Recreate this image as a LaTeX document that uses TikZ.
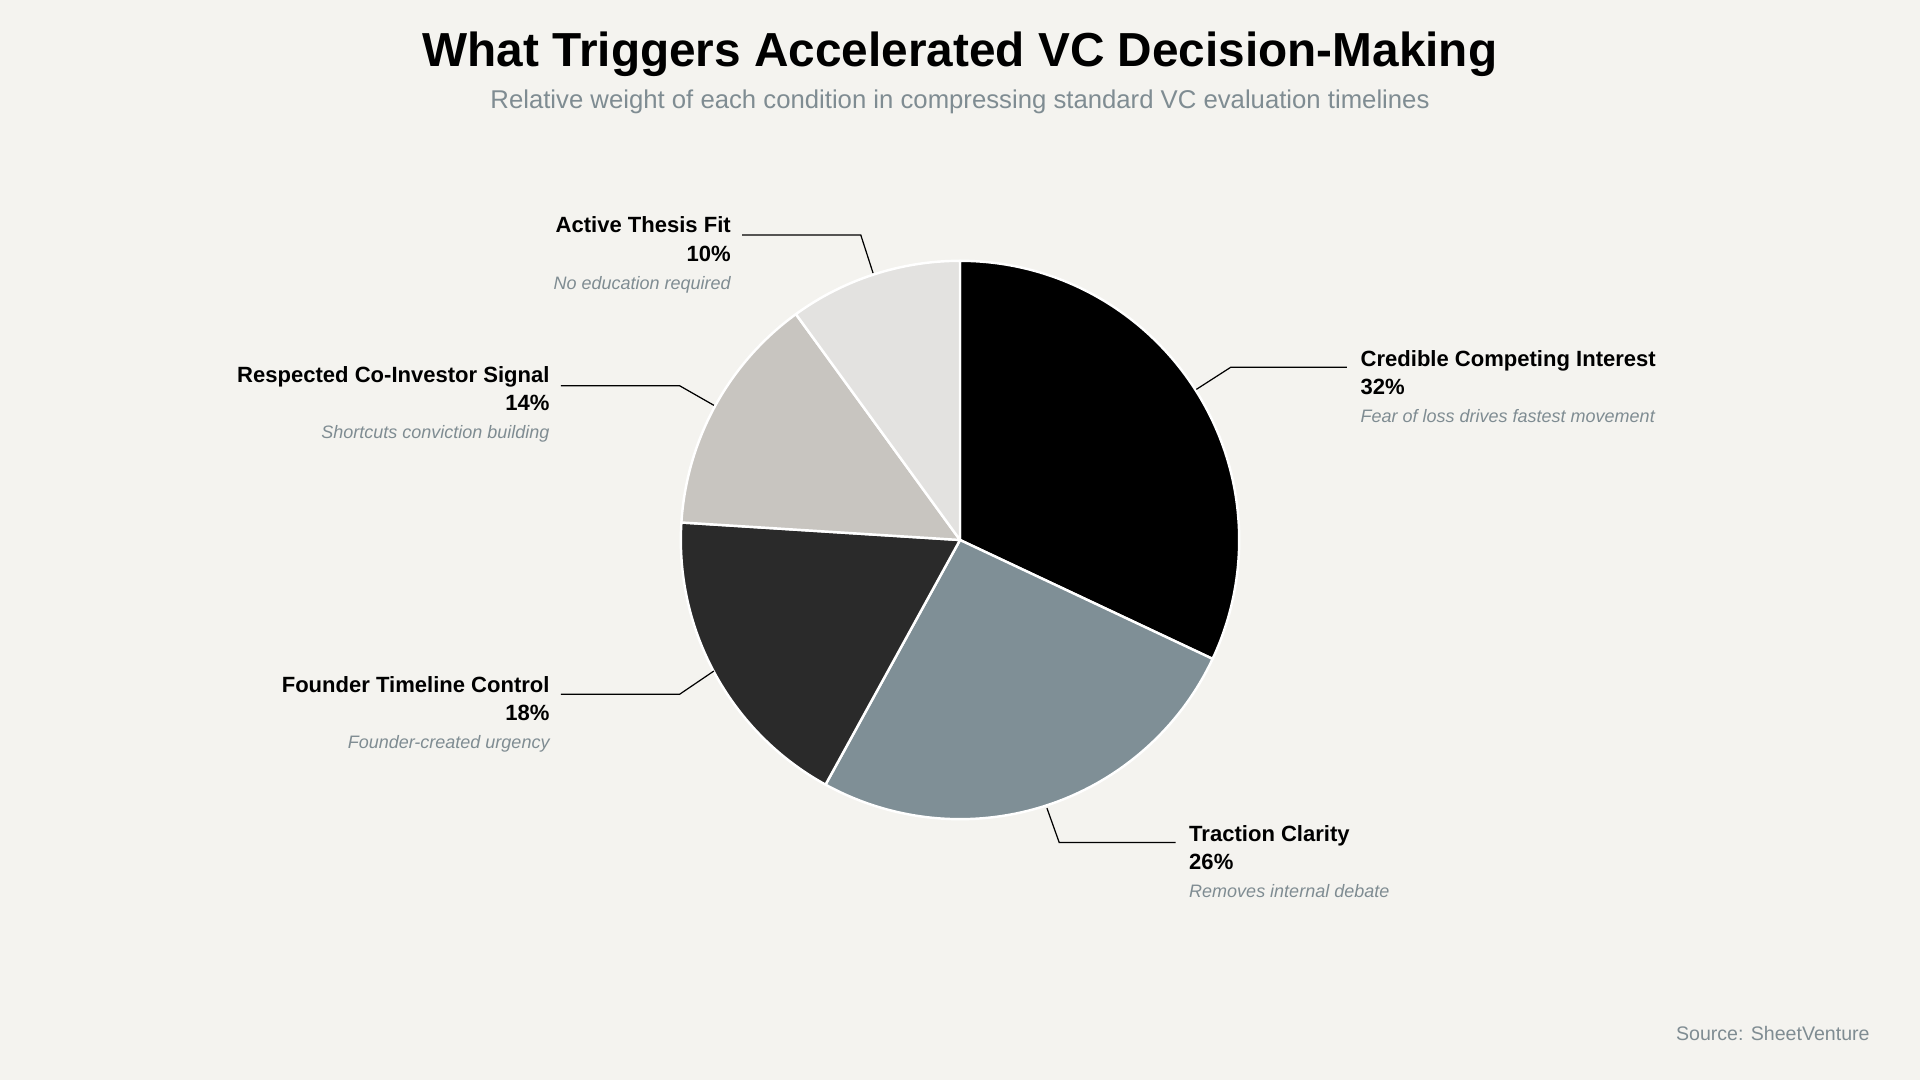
\documentclass[tikz,border=0pt]{standalone}
\usepackage{fontspec}
\setmainfont{Liberation Sans}
\definecolor{bg}{HTML}{F4F3EF}
\definecolor{cA}{HTML}{000000}
\definecolor{cB}{HTML}{7F8F96}
\definecolor{cC}{HTML}{2A2A2A}
\definecolor{cD}{HTML}{C8C5C0}
\definecolor{cE}{HTML}{E3E2E0}
\definecolor{sub}{HTML}{7F8C92}
\newcommand{\lab}[3]{{\bfseries #1}\\[1pt] {\bfseries #2}\\[1pt] {\fontsize{14.7}{18}\selectfont\itshape\color{sub} #3}}
\begin{document}
\begin{tikzpicture}[x=1pt,y=-1pt,
  slice/.style={draw=white,line width=2pt,line join=round},
  lead/.style={draw=black,line width=1pt},
  lblR/.style={anchor=north west,align=left,inner sep=0pt,font=\fontsize{18}{22}\selectfont},
  lblL/.style={anchor=north east,align=right,inner sep=0pt,font=\fontsize{18}{22}\selectfont}]
\fill[bg] (0,0) rectangle (1568,882);
\useasboundingbox (0,0) rectangle (1568,882);
\node[font=\fontsize{39}{44}\selectfont\bfseries] (title) at (784,44) {What Triggers Accelerated VC Decision-Making};
\node[font=\fontsize{21}{24}\selectfont,text=sub] (subtitle) at (784,83) {Relative weight of each condition in compressing standard VC evaluation timelines};
\coordinate (c) at (784,441);
\def\R{228}
\fill[cA,slice] (c) -- ++(-90:\R) arc[start angle=-90,end angle=25.2,radius=\R] -- cycle;
\fill[cB,slice] (c) -- ++(25.2:\R) arc[start angle=25.2,end angle=118.8,radius=\R] -- cycle;
\fill[cC,slice] (c) -- ++(118.8:\R) arc[start angle=118.8,end angle=183.6,radius=\R] -- cycle;
\fill[cD,slice] (c) -- ++(183.6:\R) arc[start angle=183.6,end angle=234,radius=\R] -- cycle;
\fill[cE,slice] (c) -- ++(234:\R) arc[start angle=234,end angle=270,radius=\R] -- cycle;
% leaders
\coordinate (a1) at (977,318); \coordinate (a2) at (1005,300); \coordinate (a3) at (1100,300);
\draw[lead] (a1) -- (a2) -- (a3);
\coordinate (b1) at (855,660); \coordinate (b2) at (865,688); \coordinate (b3) at (960,688);
\draw[lead] (b1) -- (b2) -- (b3);
\coordinate (d1) at (583,548); \coordinate (d2) at (555,567); \coordinate (d3) at (458,567);
\draw[lead] (d1) -- (d2) -- (d3);
\coordinate (e1) at (583,331); \coordinate (e2) at (555,315); \coordinate (e3) at (458,315);
\draw[lead] (e1) -- (e2) -- (e3);
\coordinate (f1) at (713,223); \coordinate (f2) at (703,192); \coordinate (f3) at (606,192);
\draw[lead] (f1) -- (f2) -- (f3);
% labels
\node[lblR] (la) at (1111,286) {\lab{Credible Competing Interest}{32\%}{Fear of loss drives fastest movement}};
\node[lblR] (lb) at (971,674) {\lab{Traction Clarity}{26\%}{Removes internal debate}};
\node[lblL] (ld) at (449,552) {\lab{Founder Timeline Control}{18\%}{Founder-created urgency}};
\node[lblL] (le) at (449,299) {\lab{Respected Co-Investor Signal}{14\%}{Shortcuts conviction building}};
\node[lblL] (lf) at (597,177) {\lab{Active Thesis Fit}{10\%}{No education required}};
\node[anchor=east,font=\fontsize{16}{20}\selectfont,text=sub,inner sep=0pt] (src) at (1527,844) {Source: SheetVenture};
\end{tikzpicture}
\end{document}
